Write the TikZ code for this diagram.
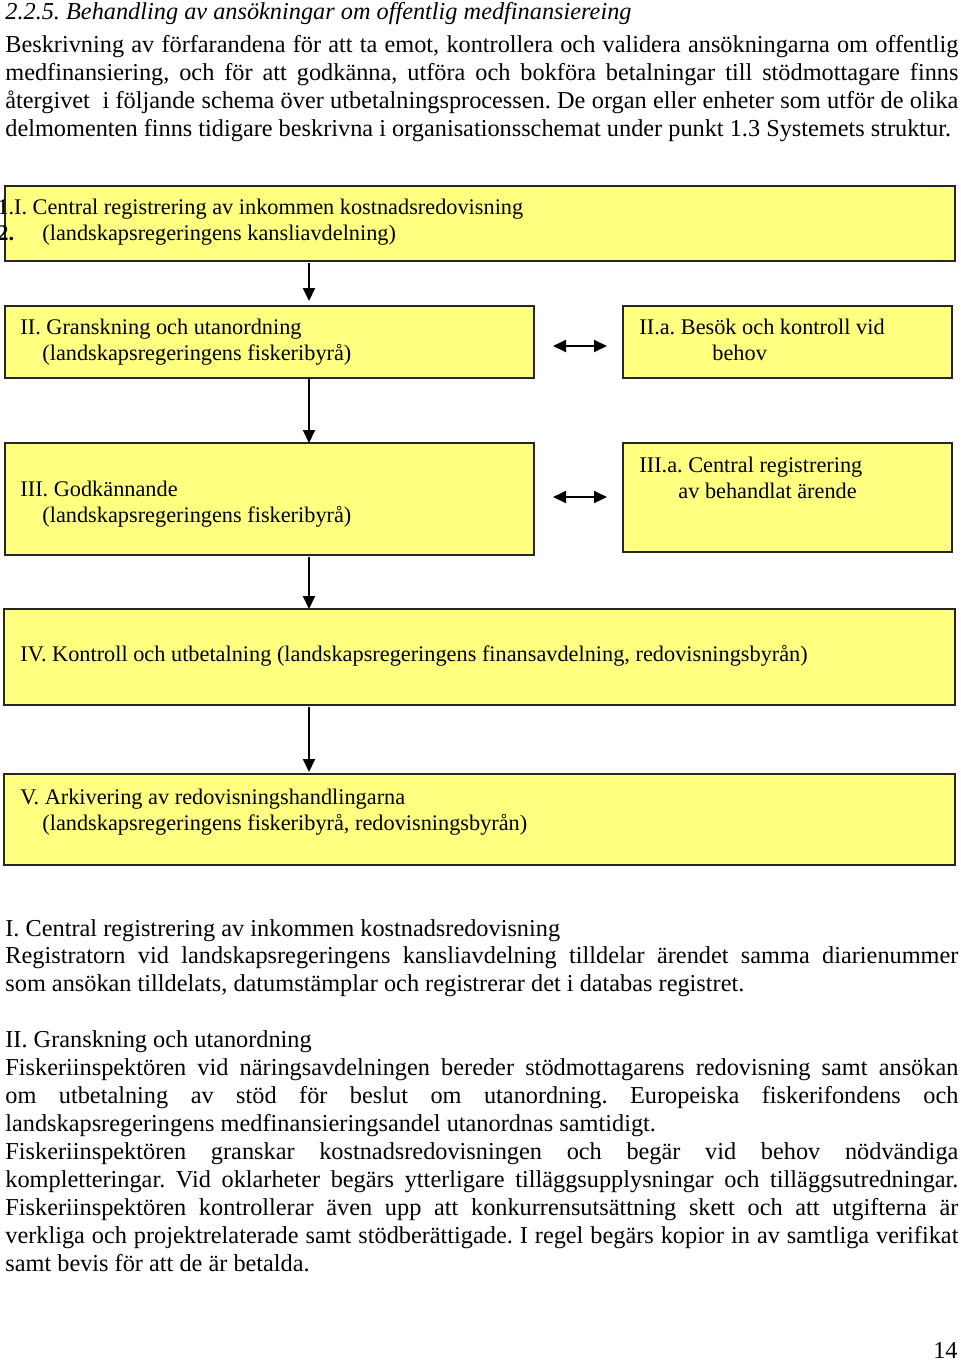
\documentclass[tikz,border=0pt]{standalone}
\usepackage{fontspec}
\setmainfont{Liberation Serif}
\usetikzlibrary{positioning}
\usetikzlibrary{arrows.meta}

\definecolor{boxyellow}{RGB}{255,255,128}
\newcommand{\fullline}[1]{\makebox[476.5pt][s]{#1}}

\tikzset{
  box/.style={draw=black!85, line width=0.75pt, fill=boxyellow, inner sep=0pt, outer sep=0pt},
  txt/.style={anchor=base west, inner sep=0pt, font=\fontsize{12.15}{14}\selectfont},
  boxtxt/.style={txt, font=\fontsize{11.15}{13}\selectfont},
  flow/.style={line width=1pt, -{Triangle[length=6.5pt,width=6pt]}},
  link/.style={line width=1pt, {Triangle[length=6.5pt,width=6pt]}-{Triangle[length=6.5pt,width=6pt]}},
}

\begin{document}
\frenchspacing
\begin{tikzpicture}[x=0.5pt,y=-0.5pt]
  \useasboundingbox (0,0) rectangle (960,1361);

  % Heading and intro
  \node[txt] (head) at (5,19) {\itshape 2.2.5. Behandling av ansökningar om offentlig medfinansiereing};
  \node[txt] (introa) at (5,52) {\fullline{Beskrivning av förfarandena för att ta emot, kontrollera och validera ansökningarna om offentlig}};
  \node[txt] (introb) at (5,80) {\fullline{medfinansiering, och för att godkänna, utföra och bokföra betalningar till stödmottagare finns}};
  \node[txt] (introc) at (5,108) {\fullline{återgivet\ \ i följande schema över utbetalningsprocessen. De organ eller enheter som utför de olika}};
  \node[txt] (introd) at (5,136) {delmomenten finns tidigare beskrivna i organisationsschemat under punkt 1.3 Systemets struktur.};

  % Boxes
  \node[box, minimum width=475pt, minimum height=37.5pt] (b1) at (480,223.5) {};
  \node[box, minimum width=264.5pt, minimum height=36pt] (b2) at (269.5,342) {};
  \node[box, minimum width=164.5pt, minimum height=36pt] (b2a) at (787.5,342) {};
  \node[box, minimum width=264.5pt, minimum height=56pt] (b3) at (269.5,499) {};
  \node[box, minimum width=164.5pt, minimum height=54.5pt] (b3a) at (787.5,497.5) {};
  \node[box, minimum width=475.5pt, minimum height=48pt] (b4) at (479.5,657) {};
  \node[box, minimum width=475.5pt, minimum height=45.5pt] (b5) at (479.5,819.5) {};

  % Box texts
  \node[boxtxt] (t1a) at (-3,214) {1.I. Central registrering av inkommen kostnadsredovisning};
  \node[boxtxt] (t1n) at (-3,240) {\bfseries 2.};
  \node[boxtxt] (t1b) at (42,240) {(landskapsregeringens kansliavdelning)};
  \node[boxtxt] (t2a) at (20,334) {II. Granskning och utanordning};
  \node[boxtxt] (t2b) at (42,360) {(landskapsregeringens fiskeribyrå)};
  \node[boxtxt] (t2c) at (639,334) {II.a. Besök och kontroll vid};
  \node[boxtxt] (t2d) at (712,360) {behov};
  \node[boxtxt] (t3a) at (20,496) {III. Godkännande};
  \node[boxtxt] (t3b) at (42,522) {(landskapsregeringens fiskeribyrå)};
  \node[boxtxt] (t3c) at (639,472) {III.a. Central registrering};
  \node[boxtxt] (t3d) at (678,498) {av behandlat ärende};
  \node[boxtxt] (t4a) at (20,661) {IV. Kontroll och utbetalning (landskapsregeringens finansavdelning, redovisningsbyrån)};
  \node[boxtxt] (t5a) at (20,804) {V. Arkivering av redovisningshandlingarna};
  \node[boxtxt] (t5b) at (42,830) {(landskapsregeringens fiskeribyrå, redovisningsbyrån)};

  % Arrows
  \coordinate (spine) at (309,0);
  \draw[flow, shorten <=1pt, shorten >=2.5pt] (b1.south -| spine) -- (b2.north -| spine);
  \draw[flow] (b2.south -| spine) -- (b3.north -| spine);
  \draw[flow, shorten <=1pt] (b3.south -| spine) -- (b4.north -| spine);
  \draw[flow, shorten <=1pt, shorten >=1pt] (b4.south -| spine) -- (b5.north -| spine);
  \draw[link, shorten <=9.5pt, shorten >=8pt] ([yshift=-2pt]b2.east) -- ([yshift=-2pt]b2.east -| b2a.west);
  \draw[link, shorten <=9.5pt, shorten >=8pt] ([yshift=1pt]b3.east) -- ([yshift=1pt]b3.east -| b3a.west);

  % Text below
  \node[txt] (ia) at (5,936) {I. Central registrering av inkommen kostnadsredovisning};
  \node[txt] (ib) at (5,963) {\fullline{Registratorn vid landskapsregeringens kansliavdelning tilldelar ärendet samma diarienummer}};
  \node[txt] (ic) at (5,991) {som ansökan tilldelats, datumstämplar och registrerar det i databas registret.};
  \node[txt] (iia) at (5,1047) {II. Granskning och utanordning};
  \node[txt] (iib) at (5,1075) {\fullline{Fiskeriinspektören vid näringsavdelningen bereder stödmottagarens redovisning samt ansökan}};
  \node[txt] (iic) at (5,1103) {\fullline{om utbetalning av stöd för beslut om utanordning. Europeiska fiskerifondens och}};
  \node[txt] (iid) at (5,1131) {landskapsregeringens medfinansieringsandel utanordnas samtidigt.};
  \node[txt] (iie) at (5,1159) {\fullline{Fiskeriinspektören granskar kostnadsredovisningen och begär vid behov nödvändiga}};
  \node[txt] (iif) at (5,1187) {\fullline{kompletteringar. Vid oklarheter begärs ytterligare tilläggsupplysningar och tilläggsutredningar.}};
  \node[txt] (iig) at (5,1215) {\fullline{Fiskeriinspektören kontrollerar även upp att konkurrensutsättning skett och att utgifterna är}};
  \node[txt] (iih) at (5,1243) {\fullline{verkliga och projektrelaterade samt stödberättigade. I regel begärs kopior in av samtliga verifikat}};
  \node[txt] (iii) at (5,1271) {samt bevis för att de är betalda.};

  % Page number
  \node[txt, anchor=base east] (pnum) at (958,1358) {14};
\end{tikzpicture}
\end{document}
